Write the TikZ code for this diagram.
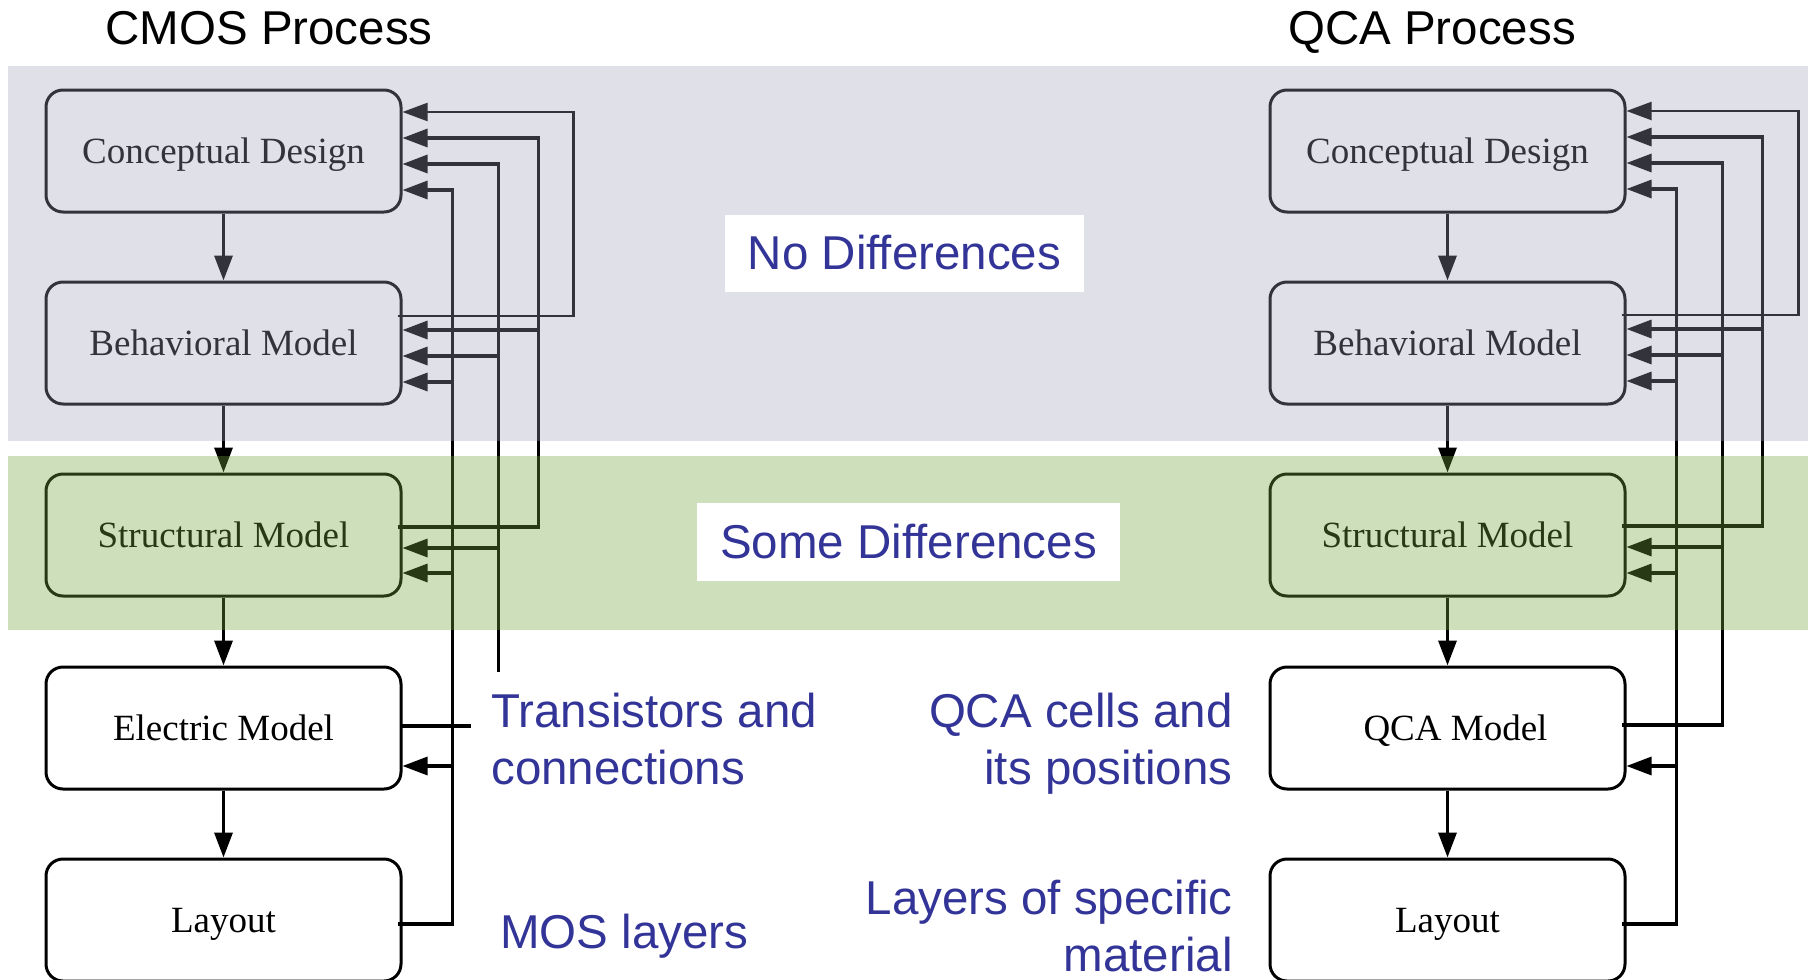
\documentclass[tikz,border=0pt]{standalone}
\usepackage{fontspec}
\setmainfont{Liberation Serif}
\newfontfamily\arialf{Liberation Sans}
\usetikzlibrary{arrows.meta,calc}
\definecolor{bandgrey}{RGB}{158,160,186}
\definecolor{bandgreen}{RGB}{115,164,61}
\definecolor{lblue}{RGB}{50,52,151}
\begin{document}
\begin{tikzpicture}[x=0.5pt,y=-0.5pt,
  box/.style={draw=black,fill=white,line width=1.5pt,rounded corners=8.5pt,
    minimum width=177.5pt,minimum height=61pt,inner sep=0pt,
    text height=12.6pt,text depth=0pt,
    font=\fontsize{18.5pt}{22pt}\selectfont},
  tip/.style={-{Triangle[length=12.5pt,width=9pt]}},
  down/.style={line width=1.7pt,tip},
  fb/.style={line width=1.55pt},
  fbt/.style={line width=1.1pt},
  lbl/.style={text=lblue,inner sep=0pt,font=\arialf\fontsize{23.75pt}{28.5pt}\selectfont},
  ttl/.style={text=black,inner sep=0pt,font=\arialf\fontsize{23.75pt}{28.5pt}\selectfont},
  diffbox/.style={fill=white,inner sep=0pt,text=lblue,font=\arialf\fontsize{23.75pt}{28.5pt}\selectfont}
]
\useasboundingbox (0,0) rectangle (1812,980);
\clip (0,0) rectangle (1812,980);

% ---------- left column (CMOS) ----------
\node[box] (lcon) at (223.5,151) {Conceptual Design};
\node[box] (lbeh) at (223.5,343) {Behavioral Model};
\node[box] (lstr) at (223.5,535) {Structural Model};
\node[box] (lele) at (223.5,728) {Electric Model};
\node[box] (llay) at (223.5,920) {Layout};

% ---------- right column (QCA) ----------
\node[box] (rcon) at (1447.5,151) {Conceptual Design};
\node[box] (rbeh) at (1447.5,343) {Behavioral Model};
\node[box] (rstr) at (1447.5,535) {Structural Model};
\node[box] (rqca) at (1447.5,728) {\hspace*{8pt}QCA Model};
\node[box] (rlay) at (1447.5,920) {Layout};

% ---------- forward arrows ----------
\draw[down] (lcon) -- (lbeh);
\draw[down] (lbeh) -- (lstr);
\draw[down] (lstr) -- (lele);
\draw[down] (lele) -- (llay);
\draw[down] (rcon) -- (rbeh);
\draw[down] (rbeh) -- (rstr);
\draw[down] (rstr) -- (rqca);
\draw[down] (rqca) -- (rlay);

% ---------- left feedback ----------
\draw[fbt,tip] ($(lbeh.east)+(-5,-27)$) -| ($(lcon.east)+(171,-39)$) -- ($(lcon.east)+(0,-39)$);
\draw[fb,tip] ($(lstr.east)+(-5,-8)$) -| ($(lcon.east)+(136,-13)$) -- ($(lcon.east)+(0,-13)$);
\draw[fb,tip] ($(lbeh.east)+(136,-13)$) -- ($(lbeh.east)+(0,-13)$);
\coordinate (lcEnd) at ($(lele.east)+(96,-56)$);
\draw[fb,tip] (lcEnd) |- ($(lcon.east)+(0,13)$);
\draw[fb,tip] ($(lbeh.east)+(96,13)$) -- ($(lbeh.east)+(0,13)$);
\draw[fb,tip] ($(lstr.east)+(96,13)$) -- ($(lstr.east)+(0,13)$);
\coordinate (leEnd) at ($(lele.east)+(68,-2)$);
\draw[fb] ($(lele.east)+(-3,-2)$) -- (leEnd);
\draw[fb,tip] ($(llay.east)+(-5,4)$) -| ($(lcon.east)+(50,39)$) -- ($(lcon.east)+(0,39)$);
\draw[fb,tip] ($(lbeh.east)+(50,39)$) -- ($(lbeh.east)+(0,39)$);
\draw[fb,tip] ($(lstr.east)+(50,38)$) -- ($(lstr.east)+(0,38)$);
\draw[fb,tip] ($(lele.east)+(50,38)$) -- ($(lele.east)+(0,38)$);

% ---------- right feedback ----------
\draw[fbt,tip] ($(rbeh.east)+(-5,-28)$) -| ($(rcon.east)+(172,-40)$) -- ($(rcon.east)+(0,-40)$);
\draw[fb,tip] ($(rstr.east)+(-5,-9)$) -| ($(rcon.east)+(136,-14)$) -- ($(rcon.east)+(0,-14)$);
\draw[fb,tip] ($(rbeh.east)+(136,-14)$) -- ($(rbeh.east)+(0,-14)$);
\draw[fb,tip] ($(rqca.east)+(-5,-3)$) -| ($(rcon.east)+(96,12)$) -- ($(rcon.east)+(0,12)$);
\draw[fb,tip] ($(rbeh.east)+(96,12)$) -- ($(rbeh.east)+(0,12)$);
\draw[fb,tip] ($(rstr.east)+(96,12)$) -- ($(rstr.east)+(0,12)$);
\draw[fb,tip] ($(rlay.east)+(-5,4)$) -| ($(rcon.east)+(50,38)$) -- ($(rcon.east)+(0,38)$);
\draw[fb,tip] ($(rbeh.east)+(50,38)$) -- ($(rbeh.east)+(0,38)$);
\draw[fb,tip] ($(rstr.east)+(50,38)$) -- ($(rstr.east)+(0,38)$);
\draw[fb,tip] ($(rqca.east)+(50,38)$) -- ($(rqca.east)+(0,38)$);

% ---------- translucent bands ----------
\fill[bandgrey,fill opacity=0.32] (8,66) rectangle (1808,441);
\fill[bandgreen,fill opacity=0.35] (8,456) rectangle (1808,630);

% ---------- band labels ----------
\node[diffbox,minimum width=179.5pt,minimum height=38.5pt] (nodiff) at (904.5,253) {No Differences};
\node[diffbox,minimum width=211.5pt,minimum height=39pt] (somediff) at (908.5,542) {Some Differences};

% ---------- titles ----------
\node[ttl,anchor=base] (tcmos) at (269,44) {CMOS Process};
\node[ttl,anchor=base] (tqca) at (1432,44) {QCA Process};

% ---------- side labels ----------
\node[lbl,anchor=north west,align=left] (ltrans) at (491,693) {Transistors and\\connections};
\node[lbl,anchor=base west] (lmos) at (500,948) {MOS layers};
\node[lbl,anchor=north east,align=right] (lqcacell) at (1233,693) {QCA cells and\\its positions};
\node[lbl,anchor=north east,align=right] (llayers) at (1233,880) {Layers of specific\\material};
\end{tikzpicture}
\end{document}
